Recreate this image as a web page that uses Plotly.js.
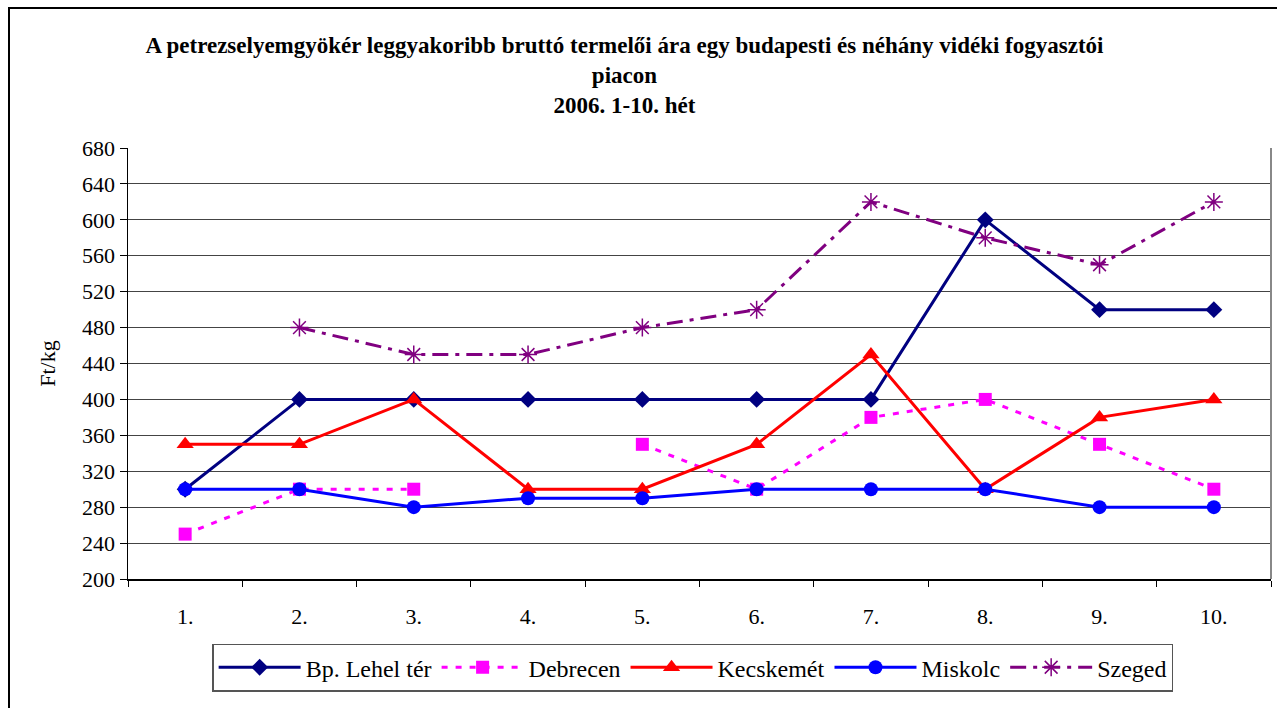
<!DOCTYPE html>
<html>
<head>
<meta charset="utf-8">
<script src="https://cdn.plot.ly/plotly-3.0.1.min.js"></script>
<style>
html,body{margin:0;padding:0;background:#fff;overflow:hidden;}
#chart{width:1277px;height:708px;position:absolute;left:0;top:0;}
#frame{position:absolute;left:8px;top:7px;width:1300px;height:720px;border-left:2px solid #000;border-top:2px solid #000;pointer-events:none;}
</style>
</head>
<body>
<div id="chart"></div>
<div id="frame"></div>
<script>
const weeks = ["1.","2.","3.","4.","5.","6.","7.","8.","9.","10."];
const bpLehel = [300,400,400,400,400,400,400,600,500,500];
const debrecen = [250,300,300,null,350,300,380,400,350,300];
const kecskemet = [350,350,400,300,300,350,450,300,380,400];
const miskolc = [300,300,280,290,290,300,300,300,280,280];
const szeged = [null,480,450,450,480,500,620,580,550,620];
const seriesNames = ["Bp. Lehel tér","Debrecen","Kecskemét","Miskolc","Szeged"];

const serif = "'Liberation Serif','Times New Roman',serif";

const traces = [
  {x: weeks, y: bpLehel, name: seriesNames[0], mode: "lines+markers",
   line: {color: "#000080", width: 3}, marker: {symbol: "diamond", size: 13, color: "#000080"}},
  {x: weeks, y: debrecen, name: seriesNames[1], mode: "lines+markers",
   line: {color: "#FF00FF", width: 3, dash: "6px,8px"}, marker: {symbol: "square", size: 13, color: "#FF00FF"}},
  {x: weeks, y: kecskemet, name: seriesNames[2], mode: "lines+markers",
   line: {color: "#FF0000", width: 3}, marker: {symbol: "triangle-up", size: 15, color: "#FF0000"}},
  {x: weeks, y: miskolc, name: seriesNames[3], mode: "lines+markers",
   line: {color: "#0000FF", width: 3}, marker: {symbol: "circle", size: 14, color: "#0000FF"}},
  {x: weeks, y: szeged, name: seriesNames[4], mode: "lines+markers",
   line: {color: "#800080", width: 3, dash: "16px,7px,4px,7px"},
   marker: {symbol: "asterisk-open", size: 15, color: "#800080", line: {color: "#800080", width: 1.5}}}
];

const layout = {
  width: 1277, height: 708,
  margin: {l: 128, r: 6, t: 148, b: 129},
  paper_bgcolor: "#fff", plot_bgcolor: "#fff",
  showlegend: true,
  font: {family: serif, color: "#000", size: 22},
  title: {
    text: "<b>A petrezselyemgyökér leggyakoribb bruttó termelői ára egy budapesti és néhány vidéki fogyasztói<br>piacon<br>2006. 1-10. hét</b>",
    font: {family: serif, size: 23, color: "#000"},
    x: 0.489, xanchor: "center", xref: "container",
    y: 0.925, yanchor: "top", yref: "container"
  },
  xaxis: {
    type: "category", range: [-0.5, 9.5],
    tickson: "boundaries", ticks: "outside", ticklen: 6, tickcolor: "#000",
    showline: true, linecolor: "#000", linewidth: 1.5,
    showgrid: false, zeroline: false,
    tickfont: {family: serif, size: 22, color: "#000"},
    ticklabelstandoff: 17
  },
  yaxis: {
    range: [200, 680], dtick: 40, tick0: 200,
    ticks: "outside", ticklen: 7, tickcolor: "#000",
    showline: true, linecolor: "#000", linewidth: 1.5,
    showgrid: true, gridcolor: "#444", gridwidth: 1,
    zeroline: false,
    tickfont: {family: serif, size: 22, color: "#000"},
    title: {text: "Ft/kg", font: {family: serif, size: 22, color: "#000"}, standoff: 20}
  },
  legend: {
    orientation: "h", x: 0.494, xanchor: "center", y: -0.15, yanchor: "top",
    bordercolor: "#555", borderwidth: 1.5, bgcolor: "#fff",
    font: {family: serif, size: 24, color: "#000"},
    itemwidth: 82, tracegroupgap: 0
  },
  shapes: [
    {type: "line", xref: "paper", yref: "paper", x0: 1, x1: 1, y0: 0, y1: 1,
     line: {color: "#888", width: 2}}
  ]
};

Plotly.newPlot("chart", traces, layout, {displayModeBar: false, staticPlot: true});
</script>
</body>
</html>
